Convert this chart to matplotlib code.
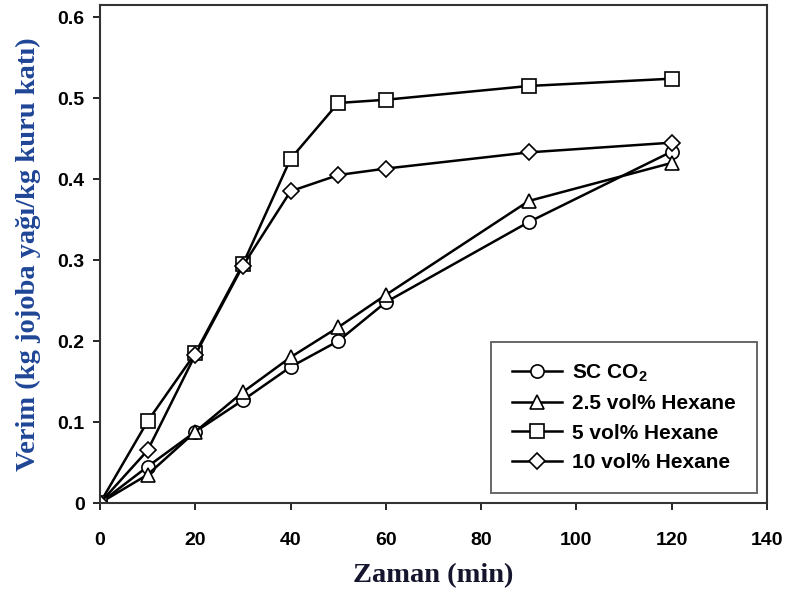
import matplotlib.pyplot as plt

# Zaman (dk) ve verim değerleri
zaman = [0, 10, 20, 30, 40, 50, 60, 90, 120]
sc_co2 = [0, 0.045, 0.088, 0.127, 0.168, 0.200, 0.248, 0.347, 0.434]
hekzan_25 = [0, 0.035, 0.088, 0.137, 0.180, 0.217, 0.257, 0.373, 0.420]
hekzan_5 = [0, 0.101, 0.185, 0.295, 0.425, 0.494, 0.498, 0.515, 0.524]
hekzan_10 = [0, 0.065, 0.183, 0.293, 0.385, 0.405, 0.413, 0.433, 0.445]

etiketler = [r"SC CO$_\mathbf{2}$", "2.5 vol% Hexane", "5 vol% Hexane", "10 vol% Hexane"]
isaretler = ["o", "^", "s", "D"]
x_ticks = [0, 20, 40, 60, 80, 100, 120, 140]
y_ticks = [0, 0.1, 0.2, 0.3, 0.4, 0.5, 0.6]
y_tick_labels = ["0", "0.1", "0.2", "0.3", "0.4", "0.5", "0.6"]

plt.rcParams['font.family'] = ['Liberation Sans', 'DejaVu Sans']
plt.rcParams['mathtext.fontset'] = 'custom'
plt.rcParams['mathtext.bf'] = 'Liberation Sans:bold'
plt.rcParams['mathtext.rm'] = 'Liberation Sans:bold'

fig = plt.figure(figsize=(7.9, 5.98), dpi=100)
ax = fig.add_axes([100 / 790, 1 - 503 / 598, 667 / 790, 498 / 598])

seriler = [sc_co2, hekzan_25, hekzan_5, hekzan_10]
for veri, etiket, isaret in zip(seriler, etiketler, isaretler):
    ms = 8 if isaret == "D" else 9.5
    ax.plot(zaman, veri, color="black", linewidth=1.8, marker=isaret, markersize=ms,
            markerfacecolor="white", markeredgecolor="black", markeredgewidth=1.2,
            label=etiket)

ax.set_xlim(0, 140)
ax.set_ylim(0, 0.615)
ax.set_xticks(x_ticks)
ax.set_yticks(y_ticks)
ax.set_yticklabels(y_tick_labels)
ax.tick_params(axis="both", direction="out", length=5, width=1.2, labelsize=14)
ax.tick_params(axis="x", pad=16)
ax.tick_params(axis="y", pad=6)
for lbl in ax.get_xticklabels() + ax.get_yticklabels():
    lbl.set_fontweight("bold")
for sp in ax.spines.values():
    sp.set_linewidth(1.5)
    sp.set_color("#333333")

ax.set_xlabel("Zaman (min)", fontsize=20.5, fontweight="bold", family="Liberation Serif",
              color="#15152e", labelpad=10)
ax.set_ylabel("Verim (kg jojoba yağı/kg kuru katı)", fontsize=20.5, fontweight="bold",
              family="Liberation Serif", color="#1f4596", labelpad=12)

leg = ax.legend(loc="lower right", bbox_to_anchor=(0.985, 0.02), borderaxespad=0,
                frameon=True, fancybox=False,
                prop={"weight": "bold", "size": 15}, handlelength=2.4, borderpad=1.0,
                labelspacing=0.5, handletextpad=0.5, edgecolor="#333333")
leg.get_frame().set_linewidth(1.3)

fig.savefig("out.png", dpi=100)
